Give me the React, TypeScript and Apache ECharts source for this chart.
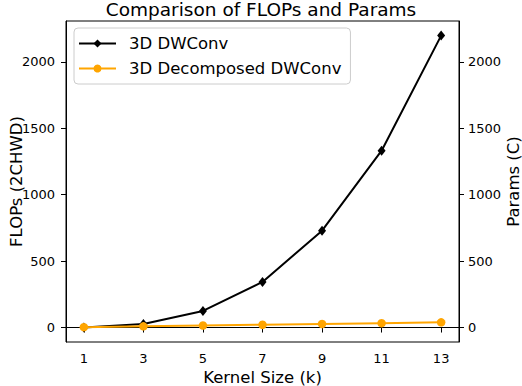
import React, { useEffect, useRef } from "react";
import * as echarts from "echarts";

const kernelSizes = [1, 3, 5, 7, 9, 11, 13];
const dwconvFlops = [1, 27, 125, 343, 729, 1331, 2197];
const decomposedFlops = [3, 9, 15, 21, 27, 33, 39];
const xTicks = [1, 3, 5, 7, 9, 11, 13];
const yTicks = [0, 500, 1000, 1500, 2000];

const FONT = "DejaVu Sans";

export default function App() {
  const ref = useRef<HTMLDivElement>(null);
  useEffect(() => {
    if (!ref.current) return;
    const chart = echarts.init(ref.current, undefined, { renderer: "svg" });
    const plain = (v: number) => String(v);
    const tickLabel = { fontFamily: FONT, fontSize: 13, color: "#000" };
    const yAxisBase = {
      type: "value",
      min: -108.8,
      max: 2306.8,
      nameLocation: "middle",
      nameRotate: 90,
      nameMoveOverlap: false,
      nameTextStyle: { fontFamily: FONT, fontSize: 16.5, color: "#000" },
      axisLine: { show: true, lineStyle: { color: "#000", width: 1 } },
      axisTick: { show: true, length: 5, lineStyle: { color: "#000" }, customValues: yTicks },
      axisLabel: { ...tickLabel, customValues: yTicks, formatter: plain },
      splitLine: { show: false },
    };
    chart.setOption({
      animation: false,
      backgroundColor: "#fff",
      title: {
        text: "Comparison of FLOPs and Params",
        left: "center",
        top: 0,
        padding: 0,
        textStyle: { fontFamily: FONT, fontSize: 18.5, fontWeight: "normal", color: "#000" },
      },
      grid: {
        left: 66,
        right: 63,
        top: 21,
        bottom: 44,
        outerBoundsMode: "none",
        containLabel: false,
        show: true,
        borderColor: "#000",
        borderWidth: 1,
        backgroundColor: "transparent",
      },
      legend: {
        orient: "vertical",
        left: 74,
        top: 28,
        padding: [7, 9, 7, 4],
        itemWidth: 37,
        itemHeight: 10,
        itemGap: 8,
        backgroundColor: "rgba(255,255,255,0.8)",
        borderColor: "#cccccc",
        borderWidth: 1,
        borderRadius: 4,
        textStyle: { fontFamily: FONT, fontSize: 16.5, color: "#000", padding: [0, 0, 0, 8], lineHeight: 16 },
        data: ["3D DWConv", "3D Decomposed DWConv"],
      },
      xAxis: {
        type: "value",
        min: 0.4,
        max: 13.6,
        name: "Kernel Size (k)",
        nameLocation: "middle",
        nameGap: 26.5,
        nameMoveOverlap: false,
        nameTextStyle: { fontFamily: FONT, fontSize: 16.5, color: "#000" },
        axisLine: { show: true, lineStyle: { color: "#000", width: 1 } },
        axisTick: { show: true, length: 5, lineStyle: { color: "#000" }, customValues: xTicks },
        axisLabel: { ...tickLabel, margin: 10, customValues: xTicks, formatter: plain },
        splitLine: { show: false },
      },
      yAxis: [
        {
          ...yAxisBase,
          position: "left",
          name: "FLOPs (2CHWD)",
          nameGap: 41,
          axisLabel: { ...yAxisBase.axisLabel, margin: 11 },
        },
        {
          ...yAxisBase,
          position: "right",
          name: "Params (C)",
          nameGap: 46,
          nameRotate: 90,
          axisLabel: { ...yAxisBase.axisLabel, margin: 9 },
        },
      ],
      series: [
        {
          name: "3D DWConv",
          type: "line",
          yAxisIndex: 0,
          data: kernelSizes.map((k, i) => [k, dwconvFlops[i]]),
          symbol: "diamond",
          symbolSize: [8, 10],
          itemStyle: { color: "#000" },
          lineStyle: { color: "#000", width: 2 },
        },
        {
          name: "3D Decomposed DWConv",
          type: "line",
          yAxisIndex: 0,
          data: kernelSizes.map((k, i) => [k, decomposedFlops[i]]),
          symbol: "circle",
          symbolSize: 8.5,
          itemStyle: { color: "#FFA500" },
          lineStyle: { color: "#FFA500", width: 2 },
        },
      ],
    });
    return () => chart.dispose();
  }, []);
  return (
    <div
      ref={ref}
      style={{ position: "fixed", left: 0, top: 0, width: 522, height: 386 }}
    />
  );
}
